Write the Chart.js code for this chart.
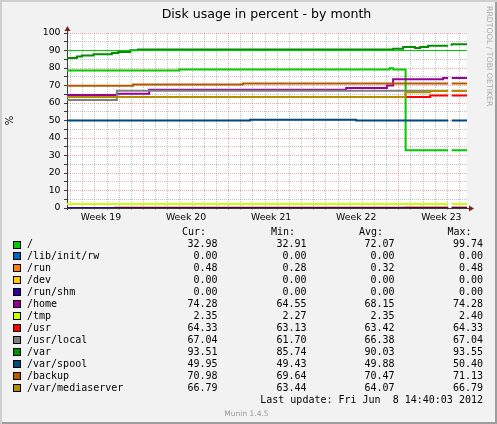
<!DOCTYPE html>
<html>
<head>
<meta charset="utf-8">
<script src="https://cdn.jsdelivr.net/npm/chart.js@4.4.1/dist/chart.umd.min.js"></script>
<style>
  body { margin: 0; background: #fff; }
  #frame { position: relative; width: 497px; height: 424px; background: #f2f2f2; overflow: hidden;
    box-shadow: inset 2px 2px 0 #cfcfcf, inset -2px -2px 0 #9e9e9e; }
  #frame canvas { position: absolute; left: 0; top: 0; }
  .t { position: absolute; white-space: pre; }
  .mono { font-family: "DejaVu Sans Mono", monospace; font-size: 10px; line-height: 12px; color: #000; }
  .swatch { position: absolute; left: 13px; width: 8px; height: 8px; box-sizing: border-box; border: 1px solid #000; }
  #title { left: 266.5px; top: 5.6px; transform: translateX(-50%); font: 12.6px/15px "DejaVu Sans"; color: #000; }
  #mark { left: 484.5px; top: 6px; writing-mode: vertical-rl; font: 7.8px/9px "DejaVu Sans"; color: #aaa; }
  #munin { left: 246.5px; top: 408.6px; transform: translateX(-50%); font: 7.5px/9px "DejaVu Sans"; color: #999; }
</style>
</head>
<body>
<div id="frame">
  <canvas id="disk" width="497" height="424"></canvas>
  <div class="t" id="title">Disk usage in percent - by month</div>
  <div class="t" id="mark">RRDTOOL / TOBI OETIKER</div>
  <div class="t" id="munin">Munin 1.4.5</div>
  <div class="t mono" id="updated" style="right:14px; top:394px;">Last update: Fri Jun  8 14:40:03 2012</div>
</div>
<script>
// x axis is in days, 0 = start of week 20 (red grid line)
const xMin = -6.29, xMax = 26.61
const gapFrom = 25.06, gapTo = 25.35

const weekLabels = ['Week 19', 'Week 20', 'Week 21', 'Week 22', 'Week 23']
const weekCenters = [-3.5, 3.5, 10.5, 17.5, 24.5]

const seriesNames = ['/', '/lib/init/rw', '/run', '/dev', '/run/shm', '/home', '/tmp', '/usr',
  '/usr/local', '/var', '/var/spool', '/backup', '/var/mediaserver']
const colors = ['#00CC00', '#0066B3', '#FF8000', '#FFCC00', '#330099', '#990099', '#CCFF00',
  '#FF0000', '#808080', '#008F00', '#00487D', '#B35A00', '#B38F00']

// step breakpoints: [day, percent]
const rootPts = [[-6.29, 78.6], [2.94, 79.2], [20.25, 79.8], [20.55, 79.2], [21.56, 32.98]]
const libInitPts = [[-6.29, 0]]
const runPts = [[-2.41, 0.28], [21.56, 0.48]]
const devPts = [[-6.29, 0]]
const runShmPts = [[-6.29, 0]]
const homePts = [[-6.29, 64.55], [-2.19, 65.3], [0.47, 67.6], [16.67, 68.6], [20.02, 70.0], [20.53, 73.6], [24.65, 74.28]]
const tmpPts = [[-6.29, 2.35]]
const usrPts = [[-6.29, 63.5], [21.56, 63.5], [23.58, 64.33]]
const usrLocalPts = [[-6.29, 61.7], [-2.19, 67.04]]
const varPts = [[-6.29, 85.74], [-5.48, 86.6], [-5.07, 87.2], [-4.11, 87.8], [-2.6, 88.6], [-2.08, 89.1],
  [-1.09, 90.1], [-0.44, 90.6], [20.53, 91.0], [21.36, 92.0], [22.34, 91.5], [22.76, 92.0], [23.41, 92.7], [25.35, 93.51]]
const varSpoolPts = [[-6.29, 49.95], [8.77, 50.4], [17.49, 49.95]]
const backupPts = [[-6.29, 69.8], [-0.85, 70.6], [8.17, 71.1]]
const mediaPts = [[-6.29, 63.5], [21.56, 66.2], [23.58, 66.79]]
const warnLevel = 90

const curVals = [32.98, 0.00, 0.48, 0.00, 0.00, 74.28, 2.35, 64.33, 67.04, 93.51, 49.95, 70.98, 66.79]
const minVals = [32.91, 0.00, 0.28, 0.00, 0.00, 64.55, 2.27, 63.13, 61.70, 85.74, 49.43, 69.64, 63.44]
const avgVals = [72.07, 0.00, 0.32, 0.00, 0.00, 68.15, 2.35, 63.42, 66.38, 90.03, 49.88, 70.47, 64.07]
const maxVals = [99.74, 0.00, 0.48, 0.00, 0.00, 74.28, 2.40, 64.33, 67.04, 93.55, 50.40, 71.13, 66.79]

const allPts = [rootPts, libInitPts, runPts, devPts, runShmPts, homePts, tmpPts, usrPts,
  usrLocalPts, varPts, varSpoolPts, backupPts, mediaPts]

const gridMinor = 'rgba(143,143,143,0.55)'
const gridMajor = 'rgba(222,79,79,0.5)'
const axisColor = '#3a3a3a'
const arrowColor = '#801f1f'

// breakpoints -> stepped points, with the missing-data hole and the last value held to the end
const toPoints = (bp) => {
  const pts = []
  let cur = null
  let gapDone = false
  const addGap = () => {
    if (cur !== null) pts.push({x: gapFrom, y: cur}, {x: (gapFrom + gapTo) / 2, y: null}, {x: gapTo, y: cur})
    gapDone = true
  }
  bp.forEach(([x, y]) => {
    if (!gapDone && x > gapFrom) addGap()
    pts.push({x, y})
    cur = y
  })
  if (!gapDone) addGap()
  pts.push({x: xMax, y: cur})
  return pts
}

const datasets = allPts.map((bp, i) => ({
  label: seriesNames[i],
  data: toPoints(bp),
  borderColor: colors[i],
  borderWidth: 2,
  pointRadius: 0,
  stepped: true,
  spanGaps: false,
  fill: false,
  order: allPts.length - i
}))
datasets.push({
  label: 'warning',
  data: [{x: xMin, y: warnLevel}, {x: xMax, y: warnLevel}],
  borderColor: '#00CC00',
  borderWidth: 1,
  pointRadius: 0,
  fill: false,
  order: 0
})

const decor = {
  id: 'decor',
  beforeDraw(chart) {
    const {ctx, chartArea: a} = chart
    ctx.save()
    ctx.fillStyle = '#ffffff'
    ctx.fillRect(a.left, a.top, a.right - a.left, a.bottom - a.top)
    ctx.restore()
  },
  beforeDatasetsDraw(chart) {
    const {ctx, chartArea: a} = chart
    ctx.save()
    ctx.strokeStyle = axisColor
    ctx.lineWidth = 1
    ctx.beginPath()
    ctx.moveTo(a.left + 0.5, a.bottom + 2)
    ctx.lineTo(a.left + 0.5, a.top - 3)
    ctx.moveTo(a.left - 2, a.bottom + 0.5)
    ctx.lineTo(a.right + 3, a.bottom + 0.5)
    ctx.stroke()
    ctx.restore()
  },
  afterDraw(chart) {
    const {ctx, chartArea: a} = chart
    ctx.save()
    ctx.fillStyle = arrowColor
    ctx.beginPath()
    ctx.moveTo(a.left + 0.5, a.top - 7)
    ctx.lineTo(a.left - 2.5, a.top - 2)
    ctx.lineTo(a.left + 3.5, a.top - 2)
    ctx.closePath()
    ctx.fill()
    ctx.beginPath()
    ctx.moveTo(a.right + 7, a.bottom + 0.5)
    ctx.lineTo(a.right + 2, a.bottom - 2.5)
    ctx.lineTo(a.right + 2, a.bottom + 3.5)
    ctx.closePath()
    ctx.fill()
    ctx.restore()
  }
}

const isWeekCenter = (v) => weekCenters.includes(v)

new Chart(document.getElementById('disk'), {
  type: 'line',
  data: { datasets },
  plugins: [decor],
  options: {
    responsive: false,
    animation: false,
    events: [],
    layout: { padding: { left: 0, top: 33, right: 30, bottom: 196 } },
    plugins: { legend: { display: false }, tooltip: { enabled: false }, title: { display: false } },
    scales: {
      x: {
        type: 'linear',
        min: xMin,
        max: xMax,
        afterFit: (s) => { s.height = 20 },
        afterBuildTicks: (s) => {
          const vals = []
          for (let d = Math.ceil(xMin); d <= Math.floor(xMax); d++) vals.push(d)
          weekCenters.forEach((c) => vals.push(c))
          vals.sort((a, b) => a - b)
          s.ticks = vals.map((v) => ({ value: v }))
        },
        grid: {
          color: (c) => {
            const v = c.tick ? c.tick.value : 0
            if (isWeekCenter(v)) return 'rgba(0,0,0,0)'
            return v % 7 === 0 ? gridMajor : gridMinor
          },
          tickColor: (c) => (c.tick && isWeekCenter(c.tick.value)) ? 'rgba(0,0,0,0)' : gridMinor,
          lineWidth: 1,
          drawTicks: true,
          tickLength: 2,
          tickBorderDash: []
        },
        border: { display: true, color: axisColor, width: 1, dash: [1, 1] },
        ticks: {
          autoSkip: false,
          maxRotation: 0,
          minRotation: 0,
          padding: 2,
          color: '#000',
          font: { family: 'DejaVu Sans', size: 9.3 },
          callback: (v) => {
            const i = weekCenters.indexOf(v)
            return i >= 0 ? weekLabels[i] : ''
          }
        }
      },
      y: {
        min: 0,
        max: 100,
        afterFit: (s) => { s.width = 67 },
        grid: {
          color: (c) => (c.tick && c.tick.value % 10 === 0) ? gridMajor : gridMinor,
          tickColor: axisColor,
          lineWidth: 1,
          drawTicks: true,
          tickLength: 3,
          tickBorderDash: []
        },
        border: { display: true, color: axisColor, width: 1, dash: [1, 1] },
        title: {
          display: true,
          text: '%',
          color: '#000',
          font: { family: 'DejaVu Sans', size: 10 },
          padding: { top: 4.5, bottom: 0 }
        },
        ticks: {
          stepSize: 5,
          autoSkip: false,
          padding: 3.5,
          color: '#000',
          font: { family: 'DejaVu Sans', size: 9.3 },
          callback: (v) => v % 10 === 0 ? String(v) : ''
        }
      }
    }
  }
})

// legend table under the graph
const frame = document.getElementById('frame')
const put = (text, style) => {
  const d = document.createElement('div')
  d.className = 't mono'
  d.textContent = text
  Object.assign(d.style, style)
  frame.appendChild(d)
}
const colRight = [217.5, 306.5, 394.5, 483]
const headers = ['Cur:', 'Min:', 'Avg:', 'Max:']
const rowTop0 = 238.2, rowStep = 11.95
headers.forEach((h, c) => put(h, { right: (497 - colRight[c] + 11.5) + 'px', top: (rowTop0 - rowStep) + 'px' }))
seriesNames.forEach((name, i) => {
  const top = rowTop0 + i * rowStep
  const sw = document.createElement('div')
  sw.className = 'swatch'
  sw.style.background = colors[i]
  sw.style.top = (top + 2.3) + 'px'
  frame.appendChild(sw)
  put(name, { left: '27px', top: top + 'px' })
  ;[curVals, minVals, avgVals, maxVals].forEach((arr, c) => {
    put(arr[i].toFixed(2), { right: (497 - colRight[c]) + 'px', top: top + 'px' })
  })
})
</script>
</body>
</html>
